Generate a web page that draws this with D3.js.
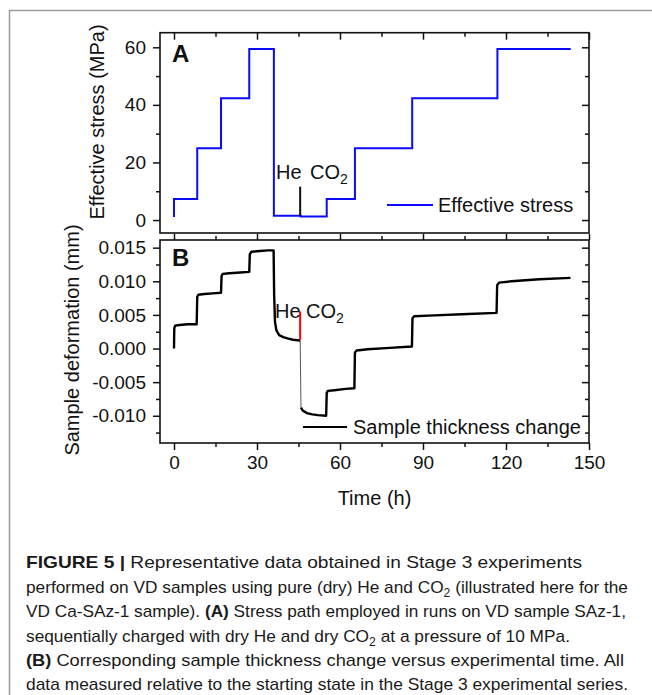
<!DOCTYPE html>
<html>
<head>
<meta charset="utf-8">
<script src="https://cdn.jsdelivr.net/npm/d3@7"></script>
<style>
  body { margin: 0; background: white; }
  text { font-family: "Liberation Sans", Arial, sans-serif; }
</style>
</head>
<body>
<div id="chart"></div>
<script>
// ---- data ----
const stressTime = [0, 0, 8.4, 17, 27.2, 36.1, 45.8, 55.2, 65.4, 86.1, 116.9, 143.4]
const stressValue = [1.1, 7.3, 24.9, 42.3, 59.4, 1.5, 1.2, 7.3, 24.9, 42.3, 59.4, 59.4]

// deformation before the He -> CO2 switch
const defTimeHe = [0, 0.1, 0.4, 2, 5, 8.2, 8.4, 8.8, 11, 14, 17, 17.2, 17.6, 20, 24, 27.2,
    27.4, 28, 31, 34, 36, 36.2, 36.5, 37, 38, 39.5, 41, 43, 45.6]
const defValueHe = [0, 0.0030, 0.0034, 0.0035, 0.0036, 0.0036, 0.0077, 0.0080, 0.0081, 0.0082, 0.0083,
    0.0108, 0.0111, 0.0112, 0.0113, 0.0114, 0.0140, 0.0144, 0.0145, 0.0146, 0.0146,
    0.0080, 0.0040, 0.0027, 0.0020, 0.0017, 0.0015, 0.0013, 0.0012]
// fast drop on CO2 charging
const defTimeDrop = [45.6, 45.9]
const defValueDrop = [0.0012, -0.0088]
// deformation after the switch
const defTimeCO2 = [45.9, 46.5, 48, 50, 52, 55, 55.2, 55.6, 58, 62, 65.2, 65.4, 66, 70, 78, 86,
    86.2, 86.8, 92, 104, 116.6, 116.8, 117.5, 122, 132, 143.3]
const defValueCO2 = [-0.0088, -0.0092, -0.0096, -0.0098, -0.0099, -0.0100, -0.0066, -0.0063, -0.0062,
    -0.0060, -0.0059, -0.0006, -0.0003, -0.0001, 0.0001, 0.0003, 0.0045, 0.0048, 0.0049,
    0.0051, 0.0053, 0.0094, 0.0098, 0.0100, 0.0103, 0.0105]

const switchTime = 45.6
const markerA = [1.4, 11.6]
const markerB = [0.0013, 0.0055]

const xTicks = [0, 30, 60, 90, 120, 150]
const xMinor = [15, 45, 75, 105, 135]
const stressTicks = [0, 20, 40, 60]
const stressMinor = [10, 30, 50]
const defTicks = [-0.010, -0.005, 0, 0.005, 0.010, 0.015]
const defMinor = [-0.0125, -0.0075, -0.0025, 0.0025, 0.0075, 0.0125]

const captionLines = [
    [["FIGURE 5 | ", true], ["Representative data obtained in Stage 3 experiments", false]],
    [["performed on VD samples using pure (dry) He and CO", false], ["2", false, "sub"], [" (illustrated here for the", false]],
    [["VD Ca-SAz-1 sample). ", false], ["(A)", true], [" Stress path employed in runs on VD sample SAz-1,", false]],
    [["sequentially charged with dry He and dry CO", false], ["2", false, "sub"], [" at a pressure of 10 MPa.", false]],
    [["(B)", true], [" Corresponding sample thickness change versus experimental time. All", false]],
    [["data measured relative to the starting state in the Stage 3 experimental series.", false]]
]
const captionWidths = [556, 602, 600, 544, 598, 602]

// ---- layout ----
const W = 652, H = 695
const left = 160, right = 589
const aTop = 32.7, aBot = 233
const bTop = 240, bBot = 443

const svg = d3.select("#chart").append("svg")
    .attr("width", W)
    .attr("height", H)

// figure frame
svg.append("path")
    .attr("d", `M9.5,${H} V10.5 H${W}`)
    .attr("fill", "none")
    .attr("stroke", "#9a9a9a")
    .attr("stroke-width", 1.5)

const x = d3.scaleLinear().domain([-5.06, 150]).range([left, right])
const yA = d3.scaleLinear().domain([-4.5, 65.07]).range([aBot, aTop])
const yB = d3.scaleLinear().domain([-0.01405, 0.01614]).range([bBot, bTop])

const fmtB = d => d3.format(".3f")(d).replace("\u2212", "-")

function drawAxis(gen, tx, ty) {
    const g = svg.append("g")
        .attr("transform", `translate(${tx},${ty})`)
        .call(gen)
    g.select(".domain").remove()
    g.selectAll("line").attr("stroke", "#111").attr("stroke-width", 1.5)
    g.selectAll("text").attr("font-size", 19).attr("fill", "#111")
        .style("font-family", "'Liberation Sans', Arial, sans-serif")
    return g
}

// panel A axes
drawAxis(d3.axisLeft(yA).tickValues(stressTicks).tickSize(7).tickPadding(7), left, 0)
drawAxis(d3.axisLeft(yA).tickValues(stressMinor).tickSize(4).tickFormat(""), left, 0)
drawAxis(d3.axisRight(yA).tickValues(stressTicks).tickSize(-7).tickFormat(""), right, 0)
drawAxis(d3.axisRight(yA).tickValues(stressMinor).tickSize(-4).tickFormat(""), right, 0)
drawAxis(d3.axisTop(x).tickValues(xTicks).tickSize(-7).tickFormat(""), 0, aTop)
drawAxis(d3.axisTop(x).tickValues(xMinor).tickSize(-4).tickFormat(""), 0, aTop)

// panel B axes
drawAxis(d3.axisLeft(yB).tickValues(defTicks).tickSize(7).tickPadding(7).tickFormat(fmtB), left, 0)
drawAxis(d3.axisLeft(yB).tickValues(defMinor).tickSize(4).tickFormat(""), left, 0)
drawAxis(d3.axisRight(yB).tickValues(defTicks).tickSize(-7).tickFormat(""), right, 0)
drawAxis(d3.axisRight(yB).tickValues(defMinor).tickSize(-4).tickFormat(""), right, 0)
drawAxis(d3.axisTop(x).tickValues(xTicks).tickSize(6).tickFormat(""), 0, bTop)
drawAxis(d3.axisTop(x).tickValues(xMinor).tickSize(4).tickFormat(""), 0, bTop)
drawAxis(d3.axisBottom(x).tickValues(xTicks).tickSize(7).tickPadding(6), 0, bBot)
drawAxis(d3.axisBottom(x).tickValues(xMinor).tickSize(4).tickFormat(""), 0, bBot)

// frames
svg.append("rect").attr("x", left).attr("y", aTop).attr("width", right - left).attr("height", aBot - aTop)
    .attr("fill", "none").attr("stroke", "#111").attr("stroke-width", 1.6)
svg.append("rect").attr("x", left).attr("y", bTop).attr("width", right - left).attr("height", bBot - bTop)
    .attr("fill", "none").attr("stroke", "#111").attr("stroke-width", 1.6)

// stress path
const stressData = stressTime.map((t, i) => ({t: t, v: stressValue[i]}))
svg.append("path")
    .datum(stressData)
    .attr("d", d3.line().curve(d3.curveStepAfter).x(d => x(d.t)).y(d => yA(d.v)))
    .attr("fill", "none")
    .attr("stroke", "#0a0aff")
    .attr("stroke-width", 2)

svg.append("line")
    .attr("x1", x(switchTime)).attr("x2", x(switchTime))
    .attr("y1", yA(markerA[0])).attr("y2", yA(markerA[1]))
    .attr("stroke", "#111").attr("stroke-width", 2)

// deformation
const toPts = (ts, vs) => ts.map((t, i) => ({t: t, v: vs[i]}))
const lineB = d3.line().x(d => x(d.t)).y(d => yB(d.v))
svg.append("path").datum(toPts(defTimeDrop, defValueDrop))
    .attr("d", lineB).attr("fill", "none").attr("stroke", "#555").attr("stroke-width", 1)
svg.append("path").datum(toPts(defTimeHe, defValueHe))
    .attr("d", lineB).attr("fill", "none").attr("stroke", "#000").attr("stroke-width", 2.4)
    .attr("stroke-linejoin", "round")
svg.append("path").datum(toPts(defTimeCO2, defValueCO2))
    .attr("d", lineB).attr("fill", "none").attr("stroke", "#000").attr("stroke-width", 2.4)
    .attr("stroke-linejoin", "round")
svg.append("line")
    .attr("x1", x(switchTime)).attr("x2", x(switchTime))
    .attr("y1", yB(markerB[0])).attr("y2", yB(markerB[1]))
    .attr("stroke", "#ff0000").attr("stroke-width", 2)

// panel letters
svg.append("text").text("A").attr("x", 172).attr("y", 62)
    .attr("font-size", 24).attr("font-weight", "bold").attr("fill", "#111")
svg.append("text").text("B").attr("x", 172).attr("y", 266)
    .attr("font-size", 24).attr("font-weight", "bold").attr("fill", "#111")

// He / CO2 labels
function gasLabels(y, xHe, xCO) {
    svg.append("text").text("He").attr("x", xHe).attr("y", y).attr("font-size", 20).attr("fill", "#111")
    const t = svg.append("text").attr("x", xCO).attr("y", y).attr("font-size", 20).attr("fill", "#111")
    t.append("tspan").text("CO")
    t.append("tspan").text("2").attr("font-size", 14).attr("dy", 5)
}
gasLabels(179, 276, 310)
gasLabels(318, 275, 306)

// legends
svg.append("line").attr("x1", 387).attr("x2", 433).attr("y1", 205).attr("y2", 205)
    .attr("stroke", "#0a0aff").attr("stroke-width", 2)
svg.append("text").text("Effective stress").attr("x", 438).attr("y", 212)
    .attr("font-size", 20).attr("fill", "#111")
svg.append("line").attr("x1", 303).attr("x2", 347).attr("y1", 427).attr("y2", 427)
    .attr("stroke", "#000").attr("stroke-width", 2)
svg.append("text").text("Sample thickness change").attr("x", 353).attr("y", 434)
    .attr("font-size", 20).attr("fill", "#111")

// axis titles
svg.append("text").text("Effective stress (MPa)")
    .attr("transform", "translate(104,122) rotate(-90)")
    .attr("text-anchor", "middle").attr("font-size", 20).attr("fill", "#111")
svg.append("text").text("Sample deformation (mm)")
    .attr("transform", "translate(79,340) rotate(-90)")
    .attr("text-anchor", "middle").attr("font-size", 20).attr("fill", "#111")
svg.append("text").text("Time (h)")
    .attr("x", (left + right) / 2).attr("y", 505)
    .attr("text-anchor", "middle").attr("font-size", 20).attr("fill", "#111")

// caption
const capBase = [568, 592.5, 617, 641.5, 666, 690]
captionLines.forEach((parts, i) => {
    const t = svg.append("text")
        .attr("x", 26).attr("y", capBase[i])
        .attr("font-size", 17).attr("fill", "#1a1a1a")
        .attr("textLength", captionWidths[i])
        .attr("lengthAdjust", "spacingAndGlyphs")
    let prevSub = false
    parts.forEach(p => {
        const s = t.append("tspan").text(p[0])
        if (p[1]) s.attr("font-weight", "bold")
        if (p[2] === "sub") {
            s.attr("font-size", 12).attr("dy", 4)
        } else if (prevSub) {
            s.attr("dy", -4)
        }
        prevSub = p[2] === "sub"
    })
})
</script>
</body>
</html>
